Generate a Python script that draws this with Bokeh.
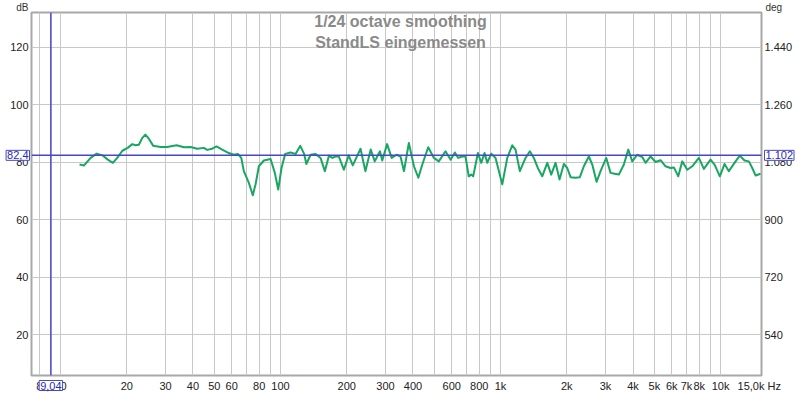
import math
from bokeh.plotting import figure
from bokeh.models import Range1d, LinearAxis, FixedTicker, Span, Label
from bokeh.embed import file_html
from bokeh.resources import INLINE

# ---- data ----
freq_hz = [12.2, 12.8, 13.7, 14.6, 15.5, 16.4, 17.3, 18.1, 19.1, 20.2,
           21.2, 21.9, 22.7, 23.5, 24.3, 25.2, 26.4, 28.5, 30.5, 33.7,
           36.4, 39.0, 41.8, 44.8, 46.4, 48.9, 51.2, 54.3, 58.2, 61.3,
           64.0, 66.3, 68.1, 71.8, 74.8, 77.0, 79.7, 84.0, 90.1, 94.2,
           97.6, 101, 105, 111, 117, 123, 128, 131, 137, 144,
           152, 159, 166, 172, 178, 184, 194, 204, 213, 231,
           243, 257, 268, 283, 290, 305, 320, 337, 351, 364,
           383, 404, 423, 441, 469, 498, 524, 562, 593, 620,
           642, 670, 693, 717, 736, 751, 789, 817, 846, 870,
           907, 949, 1018, 1073, 1130, 1170, 1224, 1299, 1359, 1417,
           1477, 1547, 1631, 1700, 1778, 1854, 1940, 2010, 2081, 2192,
           2294, 2391, 2520, 2612, 2732, 2848, 3024, 3162, 3298, 3450,
           3635, 3807, 3969, 4182, 4408, 4561, 4808, 5064, 5337, 5623,
           5925, 6135, 6423, 6698, 7058, 7437, 7969, 8398, 9006, 9392,
           9927, 10428, 10907, 11702, 12237, 12856, 13446, 13934, 14425, 15199]

spl_db = [79.2, 78.9, 81.5, 83.0, 82.4, 80.9, 79.8, 81.5, 84.0, 85.0,
          86.3, 85.9, 86.1, 88.4, 89.6, 88.2, 85.7, 85.3, 85.3, 85.9,
          85.2, 85.3, 84.7, 85.0, 84.3, 84.7, 85.5, 84.4, 83.2, 82.6,
          82.9, 81.5, 76.9, 72.8, 68.5, 72.3, 78.6, 80.6, 81.1, 76.3,
          70.5, 78.0, 82.9, 83.4, 82.9, 85.7, 82.9, 79.4, 82.6, 82.9,
          81.5, 76.9, 82.3, 81.5, 82.0, 82.0, 77.4, 82.4, 78.9, 84.7,
          76.9, 84.4, 80.3, 83.8, 80.6, 86.3, 81.5, 82.6, 82.0, 76.9,
          86.7, 78.6, 74.6, 79.2, 85.2, 81.5, 80.3, 83.8, 80.9, 83.4,
          81.5, 82.0, 82.0, 75.1, 75.7, 75.1, 83.2, 79.8, 83.2, 79.8,
          83.0, 81.5, 72.3, 81.5, 85.9, 84.4, 76.9, 81.5, 83.8, 81.5,
          78.0, 75.1, 79.8, 75.7, 79.8, 74.0, 79.4, 78.0, 74.8, 74.6,
          74.8, 78.6, 82.0, 79.2, 73.2, 76.9, 81.5, 76.3, 76.0, 75.7,
          79.2, 84.4, 80.3, 82.6, 81.8, 79.8, 82.0, 80.1, 80.7, 78.6,
          78.0, 78.2, 75.1, 80.3, 77.4, 78.6, 81.5, 77.7, 80.9, 79.2,
          75.1, 79.4, 76.9, 80.3, 82.3, 80.6, 80.3, 78.0, 75.4, 76.0]

cursor_freq = 9.04
cursor_db = 82.4
cursor_freq_text = "9,04"
cursor_db_text = "82,4"
cursor_deg_text = "1.102"

x_label_ticks = [8, 10, 20, 30, 40, 50, 60, 80, 100, 200, 300, 400, 600, 800,
                 1000, 2000, 3000, 4000, 5000, 6000, 7000, 8000, 10000, 15000]
x_label_texts = ["8", "10", "20", "30", "40", "50", "60", "80", "100", "200",
                 "300", "400", "600", "800", "1k", "2k", "3k", "4k", "5k", "6k",
                 "7k", "8k", "10k", "15,0k Hz"]
x_grid_ticks = [8, 9, 10, 20, 30, 40, 50, 60, 70, 80, 90,
                100, 200, 300, 400, 500, 600, 700, 800, 900,
                1000, 2000, 3000, 4000, 5000, 6000, 7000, 8000, 9000, 10000]
y_ticks = [20, 40, 60, 80, 100, 120]
deg_ticks = [540, 720, 900, 1080, 1260, 1440]
deg_labels = ["540", "720", "900", "1.080", "1.260", "1.440"]
unit_left, unit_right = "dB", "deg"
title_lines = ["1/24 octave smoothing", "StandLS eingemessen"]

X_START, X_END = 7.38, 15350
Y_START, Y_END = 5.8, 132.1
DEG_PER_DB, DEG_OFFSET = 9, 360

FONT = "Liberation Sans"
BLUE = "#4747c9"

# The extra captions live in the left side panel (so they are not clipped to
# the plot frame); that panel is made wide and the canvas is shifted left by
# the surplus so the frame sits where the reference has it.
LEFT_BORDER = 160
SHIFT = LEFT_BORDER - 31

p = figure(width=SHIFT + 800, height=394, x_axis_type="log",
           x_range=Range1d(X_START, X_END), y_range=Range1d(Y_START, Y_END),
           output_backend="svg", toolbar_location=None,
           min_border_left=LEFT_BORDER, min_border_right=39,
           min_border_top=12, min_border_bottom=17,
           styles={"margin-left": f"-{SHIFT}px"})

p.background_fill_color = "white"
p.border_fill_color = "white"
p.outline_line_color = "#a8a8a8"
p.outline_line_width = 2

p.extra_y_ranges = {"deg": Range1d(DEG_PER_DB * Y_START + DEG_OFFSET,
                                   DEG_PER_DB * Y_END + DEG_OFFSET)}
right_axis = LinearAxis(y_range_name="deg", ticker=FixedTicker(ticks=deg_ticks),
                        major_label_overrides=dict(zip(deg_ticks, deg_labels)))
p.add_layout(right_axis, "right")

p.xaxis[0].ticker = FixedTicker(ticks=x_label_ticks)
p.xaxis[0].major_label_overrides = dict(zip(x_label_ticks, x_label_texts))
p.yaxis[0].ticker = FixedTicker(ticks=y_ticks)

for ax in [p.xaxis[0], p.yaxis[0], right_axis]:
    ax.axis_line_color = None
    ax.major_tick_line_color = None
    ax.minor_tick_line_color = None
    ax.major_tick_in = 0
    ax.major_tick_out = 0
    ax.major_label_text_font = FONT
    ax.major_label_text_font_size = "11px"
    ax.major_label_text_color = "#222222"
    ax.major_label_standoff = 3
p.xaxis[0].major_label_standoff = 4

p.xgrid[0].ticker = FixedTicker(ticks=x_grid_ticks)
p.ygrid[0].ticker = FixedTicker(ticks=y_ticks)
for g in [p.xgrid[0], p.ygrid[0]]:
    g.grid_line_color = "#c8c8c8"
    g.grid_line_width = 1

# cursors
p.add_layout(Span(location=cursor_db, dimension="width", line_color=BLUE, line_width=1.5))
p.add_layout(Span(location=cursor_freq, dimension="height", line_color=BLUE, line_width=1.5))

# measurement curve
p.line(freq_hz, spl_db, line_color="#19a662", line_width=2, line_join="round")

# titles (inside the frame)
for text, yv in zip(title_lines, [129.0, 121.7]):
    p.add_layout(Label(x=math.sqrt(X_START * X_END), y=yv, x_offset=4, text=text,
                       text_align="center", text_baseline="middle",
                       text_font=FONT, text_font_style="bold",
                       text_font_size="16px", text_color="#8a8a8a"))

# unit captions
unit_style = dict(x_units="canvas", y_units="canvas", text_baseline="top",
                  text_font=FONT, text_font_size="10px", text_color="#333333")
p.add_layout(Label(x=SHIFT + 28, y=1, text=unit_left, text_align="right",
                   **unit_style), "left")
p.add_layout(Label(x=SHIFT + 765, y=1, text=unit_right, text_align="left",
                   **unit_style), "left")

# cursor value boxes
box_style = dict(text_font=FONT, text_font_size="11px", text_color="#2a2ab8",
                 text_baseline="middle", background_fill_color="white",
                 border_line_color=BLUE, border_line_width=1, padding=1)
p.add_layout(Label(x=SHIFT + 29, x_units="canvas", y=cursor_db, text=cursor_db_text,
                   text_align="right", **box_style), "left")
p.add_layout(Label(x=SHIFT + 764, x_units="canvas", y=cursor_db, text=cursor_deg_text,
                   text_align="left", **box_style), "left")
p.add_layout(Label(x=cursor_freq, y=385, y_units="canvas", text=cursor_freq_text,
                   text_align="center", **box_style), "left")

open("out.html", "w").write(file_html(p, INLINE))
